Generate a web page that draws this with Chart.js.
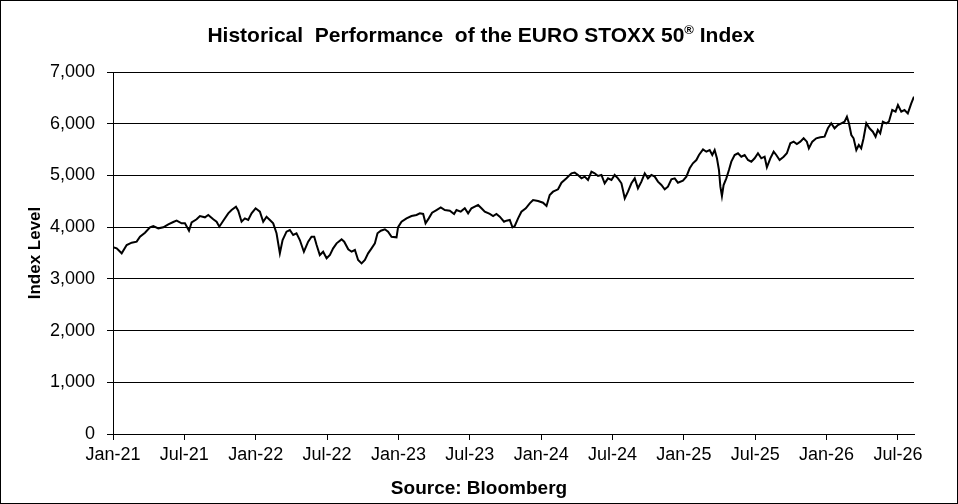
<!DOCTYPE html>
<html>
<head>
<meta charset="utf-8">
<title>EURO STOXX 50 Historical Performance</title>
<script src="https://cdn.jsdelivr.net/npm/chart.js@4.4.1/dist/chart.umd.min.js"></script>
<style>
  html, body { margin: 0; padding: 0; background: #fff; }
  canvas { display: block; }
</style>
</head>
<body>
<canvas id="chart" width="958" height="504"></canvas>
<script>
// months since Jan-21 (x) and index level (y)
const monthOffsets = [
  0, 0.31, 0.73, 1.15, 1.57, 1.99, 2.27, 2.69, 3.11, 3.39, 3.81, 4.23, 4.65, 5.07, 5.35, 5.77,
  6.05, 6.39, 6.61, 7.03, 7.31, 7.73, 8.01, 8.43, 8.71, 8.94, 9.27, 9.69, 9.97, 10.34, 10.53, 10.81,
  11.09, 11.37, 11.65, 11.99, 12.35, 12.63, 12.91, 13.19, 13.47, 13.75, 14.03, 14.26, 14.59, 14.87,
  15.15, 15.43, 15.71, 16.05, 16.41, 16.69, 16.92, 17.12, 17.39, 17.67, 17.96, 18.24, 18.51, 18.80,
  19.22, 19.44, 19.78, 20.06, 20.34, 20.61, 20.90, 21.18, 21.45, 21.74, 22.02, 22.24, 22.52, 22.86,
  23.13, 23.42, 23.84, 23.97, 24.26, 24.68, 25.10, 25.52, 25.80, 26.08, 26.28, 26.55, 26.83, 27.20,
  27.56, 27.90, 28.32, 28.68, 28.88, 29.24, 29.58, 29.86, 30.14, 30.42, 30.70, 30.98, 31.26, 31.68,
  31.96, 32.24, 32.52, 32.88, 33.08, 33.36, 33.59, 33.78, 34.06, 34.34, 34.71, 35.04, 35.32, 35.74,
  36.16, 36.45, 36.72, 37.00, 37.42, 37.71, 38.13, 38.55, 38.82, 39.10, 39.39, 39.66, 39.94, 40.23,
  40.50, 40.78, 41.07, 41.34, 41.62, 41.91, 42.18, 42.46, 42.75, 43.03, 43.30, 43.59, 43.87, 44.14,
  44.43, 44.71, 44.98, 45.27, 45.55, 45.82, 46.11, 46.39, 46.66, 46.95, 47.23, 47.50, 47.92, 48.21,
  48.49, 48.76, 49.05, 49.27, 49.61, 49.89, 50.17, 50.39, 50.59, 50.78, 50.95, 51.07, 51.20, 51.34,
  51.57, 51.79, 51.99, 52.27, 52.55, 52.83, 53.11, 53.39, 53.67, 53.95, 54.23, 54.51, 54.79, 54.98,
  55.27, 55.55, 55.77, 56.05, 56.39, 56.66, 56.95, 57.23, 57.50, 57.79, 58.07, 58.34, 58.51, 58.80,
  59.13, 59.47, 59.83, 60.11, 60.39, 60.67, 60.95, 61.24, 61.51, 61.71, 61.88, 62.08, 62.27, 62.50,
  62.71, 62.91, 63.11, 63.34, 63.61, 63.89, 64.12, 64.31, 64.51, 64.73, 65.02, 65.24, 65.52, 65.80,
  66.00, 66.28, 66.55, 66.83, 67.12, 67.35
];
const indexLevels = [
  3610, 3590, 3494, 3655, 3700, 3719, 3815, 3893, 3997, 4022, 3977, 3997, 4055, 4100, 4125, 4074,
  4074, 3931, 4090, 4151, 4215, 4190, 4235, 4151, 4105, 4009, 4125, 4267, 4331, 4396, 4318, 4105,
  4170, 4138, 4267, 4364, 4300, 4105, 4202, 4138, 4074, 3881, 3494, 3751, 3912, 3944,
  3848, 3880, 3751, 3525, 3719, 3815, 3815, 3655, 3461, 3525, 3397, 3461, 3590, 3687,
  3764, 3719, 3571, 3525, 3558, 3365, 3300, 3365, 3494, 3590, 3687, 3881, 3931, 3958,
  3912, 3815, 3803, 4000, 4105, 4171, 4215, 4235, 4267, 4255, 4074, 4170, 4280, 4331,
  4383, 4331, 4318, 4255, 4331, 4300, 4364, 4267, 4364, 4396, 4428, 4364, 4300, 4255,
  4215, 4255, 4202, 4105, 4125, 4138, 3997, 4022, 4171, 4299, 4364, 4461, 4525, 4505,
  4473, 4409, 4622, 4686, 4732, 4860, 4944, 5041, 5054, 5009, 4944, 4977, 4912, 5073,
  5041, 4990, 5009, 4848, 4944, 4912, 5009, 4944, 4848, 4557, 4686, 4848, 4944, 4751,
  4880, 5041, 4944, 5009, 4977, 4880, 4815, 4732, 4783, 4925, 4944, 4860, 4900, 4977,
  5138, 5235, 5298, 5395, 5505, 5459, 5491, 5395, 5491, 5331, 5105, 4783, 4602, 4815,
  4944, 5105, 5266, 5395, 5428, 5362, 5395, 5298, 5266, 5331, 5428, 5331, 5362, 5157,
  5331, 5459, 5395, 5298, 5362, 5428, 5621, 5653, 5608, 5653, 5718, 5653, 5524, 5653,
  5718, 5737, 5749, 5911, 6008, 5911, 5975, 6008, 6039, 6136, 6008, 5782, 5718, 5492,
  5588, 5524, 5718, 6008, 5911, 5846, 5749, 5878, 5814, 6039, 6008, 6039, 6265, 6233,
  6362, 6233, 6265, 6200, 6394, 6523
];
const tickLabels = ['Jan-21', 'Jul-21', 'Jan-22', 'Jul-22', 'Jan-23', 'Jul-23',
                    'Jan-24', 'Jul-24', 'Jan-25', 'Jul-25', 'Jan-26', 'Jul-26'];
const tickMonths = tickLabels.map((_, i) => i * 6);

const FONT = '"Liberation Sans", Arial, sans-serif';

// white background, outer frame, title with a raised ® and the source line
const framePlugin = {
  id: 'frame',
  beforeDraw(chart) {
    const { ctx, width, height } = chart;
    ctx.save();
    ctx.fillStyle = '#fff';
    ctx.fillRect(0, 0, width, height);
    ctx.restore();
  },
  afterDraw(chart) {
    const { ctx, width, height } = chart;
    ctx.save();
    ctx.strokeStyle = '#000';
    ctx.lineWidth = 1;
    ctx.strokeRect(0.5, 0.5, width - 1, height - 1);

    const parts = [
      { text: 'Historical  Performance  of the EURO STOXX 50', font: 'bold 21px ' + FONT, dy: 0 },
      { text: '\u00AE', font: 'bold 13px ' + FONT, dy: -8 },
      { text: ' Index', font: 'bold 21px ' + FONT, dy: 0 }
    ];
    let total = 0;
    parts.forEach(p => { ctx.font = p.font; p.w = ctx.measureText(p.text).width; total += p.w; });
    let x = 481 - total / 2;
    ctx.fillStyle = '#000';
    ctx.textBaseline = 'alphabetic';
    ctx.textAlign = 'left';
    parts.forEach(p => {
      ctx.font = p.font;
      ctx.fillText(p.text, x, 42 + p.dy);
      x += p.w;
    });

    ctx.font = 'bold 19px ' + FONT;
    ctx.textAlign = 'center';
    ctx.fillText('Source: Bloomberg', 479, 494);
    ctx.restore();
  }
};

new Chart(document.getElementById('chart'), {
  type: 'line',
  data: {
    datasets: [{
      data: monthOffsets.map((m, i) => ({ x: m, y: indexLevels[i] })),
      borderColor: '#000',
      borderWidth: 2,
      pointRadius: 0,
      tension: 0,
      fill: false
    }]
  },
  options: {
    responsive: false,
    animation: false,
    devicePixelRatio: 1,
    layout: { padding: { top: 72, right: 44, bottom: 0, left: 0 } },
    plugins: {
      legend: { display: false },
      tooltip: { enabled: false },
      title: { display: false }
    },
    scales: {
      x: {
        type: 'linear',
        min: 0,
        max: 67.35,
        afterBuildTicks(scale) {
          scale.ticks = tickMonths.map(v => ({ value: v }));
        },
        afterFit(scale) { scale.height = 70; },
        ticks: {
          autoSkip: false,
          maxRotation: 0,
          padding: 4,
          color: '#000',
          font: { family: FONT, size: 18 },
          callback: (v) => tickLabels[tickMonths.indexOf(v)] || ''
        },
        grid: {
          drawOnChartArea: false,
          drawTicks: true,
          tickLength: 6,
          color: '#000'
        },
        border: { display: true, color: '#000', width: 1 },
        title: { display: false }
      },
      y: {
        min: 0,
        max: 7000,
        afterFit(scale) { scale.width = 113; },
        ticks: {
          stepSize: 1000,
          padding: 12,
          color: '#000',
          font: { family: FONT, size: 18 },
          callback: (v) => v.toLocaleString('en-US')
        },
        grid: {
          color: '#000',
          lineWidth: 1,
          drawTicks: true,
          tickLength: 6
        },
        border: { display: true, color: '#000', width: 1 },
        title: {
          display: true,
          text: 'Index Level',
          color: '#000',
          font: { family: FONT, size: 17, weight: 'bold' },
          padding: { top: 25, bottom: 0 }
        }
      }
    }
  },
  plugins: [framePlugin]
});
</script>
</body>
</html>
